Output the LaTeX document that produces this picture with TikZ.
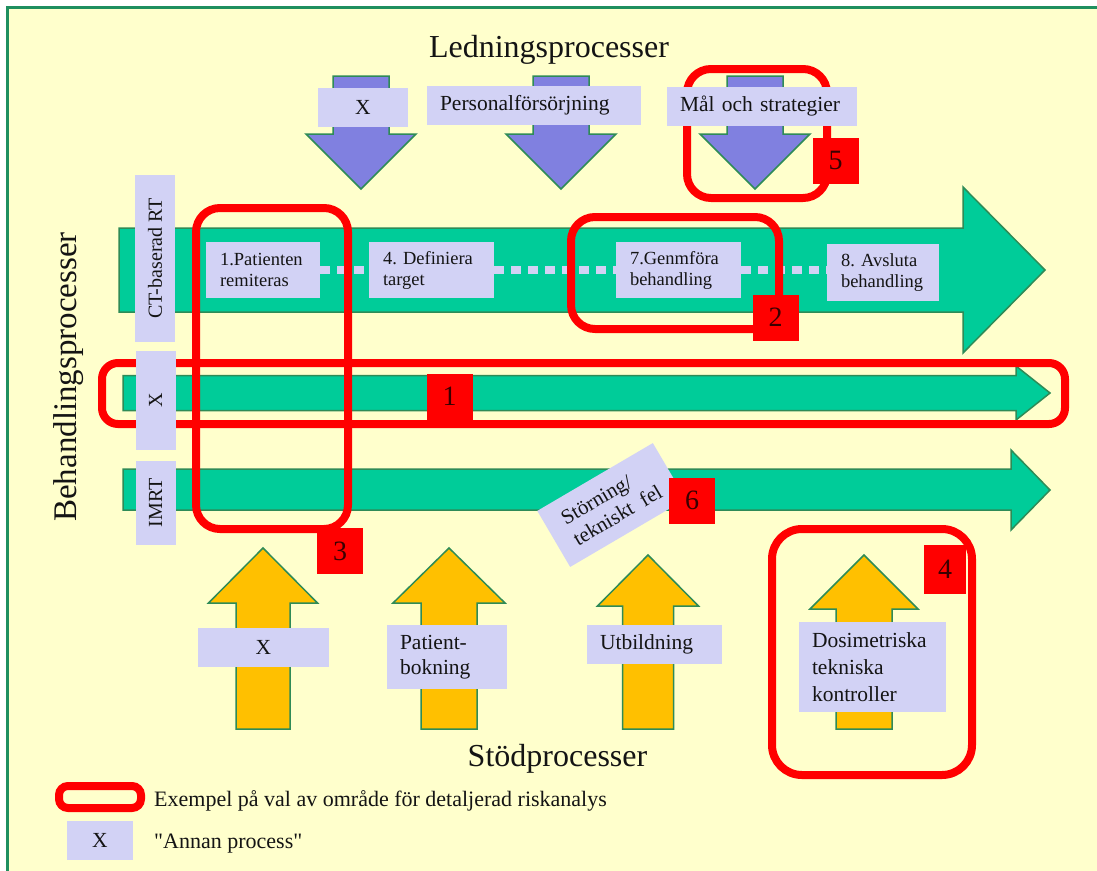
\documentclass[tikz,border=0pt]{standalone}
\usepackage{fontspec}
\setmainfont{Liberation Serif}
\definecolor{paper}{HTML}{FFFFCC}
\definecolor{framegreen}{HTML}{1F8F5F}
\definecolor{flow}{HTML}{00CC99}
\definecolor{edge}{HTML}{2E8B57}
\definecolor{mgmt}{HTML}{8080E0}
\definecolor{support}{HTML}{FFC000}
\definecolor{lav}{HTML}{D2D2F5}
\definecolor{ink}{HTML}{141414}
\definecolor{riskred}{HTML}{FF0000}
\definecolor{digit}{HTML}{3A0000}
\newcommand\fsz[2]{\fontsize{#1}{#2}\selectfont}
% straight double quote, bypassing the TeX ligature mapping
\newcommand\straightquote{\XeTeXglyph\XeTeXglyphindex "quotedbl"\relax}
\frenchspacing
\begin{document}
\begin{tikzpicture}[x=1pt,y=-1pt,
  flowarrow/.style={fill=flow, draw=edge, line width=1.5pt},
  mgmtarrow/.style={fill=mgmt, draw=edge, line width=1.5pt},
  suparrow/.style={fill=support, draw=edge, line width=1.5pt},
  lbl/.style={fill=lav, text=ink, inner sep=0pt, font=\fsz{21.5}{26}},
  lblL/.style={lbl, align=left, inner xsep=13pt},
  proc/.style={fill=lav, text=ink, inner xsep=14pt, inner ysep=0pt, align=left, font=\fsz{18.5}{21}},
  vlbl/.style={lbl, rotate=90, font=\fsz{20}{24}, minimum height=40pt},
  area/.style={draw=riskred, line width=8pt, rounded corners=24pt, inner sep=0pt},
  badge/.style={fill=riskred, text=digit, minimum size=46pt, inner sep=0pt, font=\fsz{28}{30}},
  heading/.style={text=ink, font=\fsz{32}{38}, inner sep=0pt},
  legtext/.style={text=ink, font=\fsz{22}{26}, inner sep=0pt, anchor=base west},
  dots/.style={draw=lav, line width=8pt, dash pattern=on 10pt off 7pt},
]
\useasboundingbox (0,0) rectangle (1097,870);
\clip (0,0) rectangle (1097,870);
\fill[white] (0,0) rectangle (1097,870);
\filldraw[fill=paper, draw=framegreen, line width=2.5pt] (7.5,7.5) rectangle (1120,900);

% treatment process flows
\draw[flowarrow] (119,228) -- (963,228) -- (963,187) -- (1045,270) -- (963,353) -- (963,312) -- (119,312) -- cycle;
\draw[flowarrow] (123,375.5) -- (1016,375.5) -- (1016,366) -- (1050,393) -- (1016,420) -- (1016,410.5) -- (123,410.5) -- cycle;
\draw[flowarrow] (123,469) -- (1011,469) -- (1011,450) -- (1050,490) -- (1011,530) -- (1011,510) -- (123,510) -- cycle;

% process steps of the CT-based flow
\node[proc, text width=86pt, minimum height=56pt] (p1) at (263,270) {1.Patienten\\remiteras};
\node[proc, text width=97pt, minimum height=56pt] (p4) at (431.5,270) {4. Definiera\\target};
\node[proc, text width=97pt, minimum height=56pt] (p7) at (678.5,270) {7.Genmföra\\behandling};
\node[proc, text width=84pt, minimum height=57pt] (p8) at (883,272.5) {8. Avsluta\\behandling};
\draw[dots] (p1.east) -- (p4.west);
\draw[dots] (p4.east) -- (p7.west);
\draw[dots] (p7.east) -- (p7.east -| p8.west);

% management processes (downwards)
\foreach \cx in {361,561,755}
  \draw[mgmtarrow] (\cx-28,76) -- (\cx+28,76) -- (\cx+28,134) -- (\cx+55,134) -- (\cx,189) -- (\cx-55,134) -- (\cx-28,134) -- cycle;

% support processes (upwards)
\foreach \cx/\tip/\hb/\sw/\hw in {263/548/603/27/54.5, 449/548/603/28/56, 648/555/606/25.5/50.5, 864/555/609/28/54}
  \draw[suparrow] (\cx-\sw,729) -- (\cx-\sw,\hb) -- (\cx-\hw,\hb) -- (\cx,\tip) -- (\cx+\hw,\hb) -- (\cx+\sw,\hb) -- (\cx+\sw,729) -- cycle;

% disturbance
\node[lbl, rotate=30.4, minimum width=134pt, minimum height=65pt, align=left, font=\fsz{21}{24}] (fault) at (611.5,505) {Störning/\\tekniskt\ \ fel};

% areas selected for detailed risk analysis
\node[area, rounded corners=16pt, minimum width=963pt, minimum height=61pt] (a1) at (583.5,393.5) {};
\node[area, minimum width=208pt, minimum height=112pt] (a2) at (675,273) {};
\node[area, minimum width=152pt, minimum height=321pt] (a3) at (272,368.5) {};
\node[area, rounded corners=30pt, minimum width=200pt, minimum height=246pt] (a4) at (872,652) {};
\node[area, minimum width=140pt, minimum height=129pt] (a5) at (757,133.5) {};

% labels of management processes
\node[lbl, minimum width=90pt, minimum height=39pt] (tX) at (363,107.5) {X};
\node[lblL, text width=188pt, minimum height=39pt] (tPers) at (534,105.5) {Personalförsörjning};
\node[lblL, text width=164pt, minimum height=39pt] (tMal) at (762,106.5) {Mål och strategier};

% labels of treatment flows
\node[vlbl, minimum width=167pt] (vCT) at (155,258.5) {CT-baserad RT};
\node[vlbl, minimum width=99pt] (vX) at (155.5,400.5) {X};
\node[vlbl, minimum width=84pt] (vIMRT) at (155.5,503) {IMRT};

% labels of support processes
\node[lbl, minimum width=131pt, minimum height=39pt] (bX) at (263.5,647.5) {X};
\node[lblL, text width=94pt, minimum height=64pt, font=\fsz{21.5}{25}] (bPat) at (447,657) {Patient-\\bokning};
\node[lblL, text width=109pt, minimum height=39pt] (bUtb) at (654.5,644.5) {Utbildning};
\node[lblL, text width=121pt, minimum height=90pt, font=\fsz{21.5}{27}] (bDos) at (872.5,667) {Dosimetriska\\tekniska\\kontroller};

% numbered markers
\node[badge] (n1) at (449.5,396.5) {1};
\node[badge] (n2) at (775.5,317.5) {2};
\node[badge] (n3) at (340,551) {3};
\node[badge, minimum width=42pt, minimum height=49pt] (n4) at (945,569.5) {4};
\node[badge] (n5) at (835.5,160.5) {5};
\node[badge] (n6) at (692,500.5) {6};

% headings
\node[heading, anchor=base] (lead) at (549,57) {Ledningsprocesser};
\node[heading, anchor=base] (supp) at (557.5,766) {Stödprocesser};
\node[heading, rotate=90, anchor=base, font=\fsz{33}{38}] (treat) at (76,377) {Behandlingsprocesser};

% legend
\node[area, rounded corners=9pt, minimum width=82pt, minimum height=22pt] (legA) at (100,797) {};
\node[legtext] (legAtxt) at (154,806) {Exempel på val av område för detaljerad riskanalys};
\node[lbl, minimum width=66pt, minimum height=39pt] (legX) at (100,840.5) {X};
\node[legtext] (legXtxt) at (154,848) {\straightquote Annan process\straightquote};
\end{tikzpicture}
\end{document}
